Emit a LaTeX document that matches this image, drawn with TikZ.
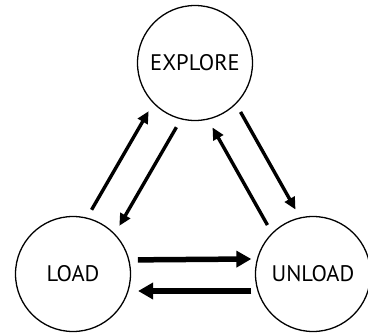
\documentclass[tikz,border=0pt]{standalone}
\usepackage{fontspec}
\setmainfont{PT Sans}
\usepackage{tikz}
\usetikzlibrary{arrows.meta, positioning}
\tikzset{
  statenode/.style={circle, draw=black, minimum size=115pt, inner sep=0pt,
    line width=1.3pt, font=\fontsize{22.5}{27}\selectfont},
  arrow/.style={-{Triangle[length=12pt,width=11pt]}, line width=3.4pt,
    shorten <=9pt, shorten >=9pt},
  bigarrow/.style={-{Triangle[length=15pt,width=16pt]}, line width=5.5pt}
}

\begin{document}
\begin{tikzpicture}[x=1pt,y=-1pt]
  \useasboundingbox (0,0) rectangle (368,335);
  % ── states ───────────────────────────────────────────────────────────────
  \node[statenode] (explore) at (195,63)  {EXPLORE};
  \node[statenode] (load)    at (73,274)  {LOAD};
  \node[statenode] (unload)  at (313,274) {UNLOAD};
  % ── left side: load <-> explore ──────────────────────────────────────────
  \draw[arrow] (load.76) -- (explore.224);
  \draw[arrow] (explore.256) -- (load.44);
  % ── right side: unload <-> explore ───────────────────────────────────────
  \draw[arrow] (unload.135) -- (explore.283);
  \draw[arrow] (explore.315) -- (unload.103);
  % ── bottom: load <-> unload ──────────────────────────────────────────────
  \draw[bigarrow, shorten <=8.5pt, shorten >=5.5pt] (load.14.6) -- (unload.165.4);
  \draw[bigarrow, shorten <=6pt, shorten >=9.5pt] (unload.197.5) -- (load.-17.5);
\end{tikzpicture}
\end{document}
